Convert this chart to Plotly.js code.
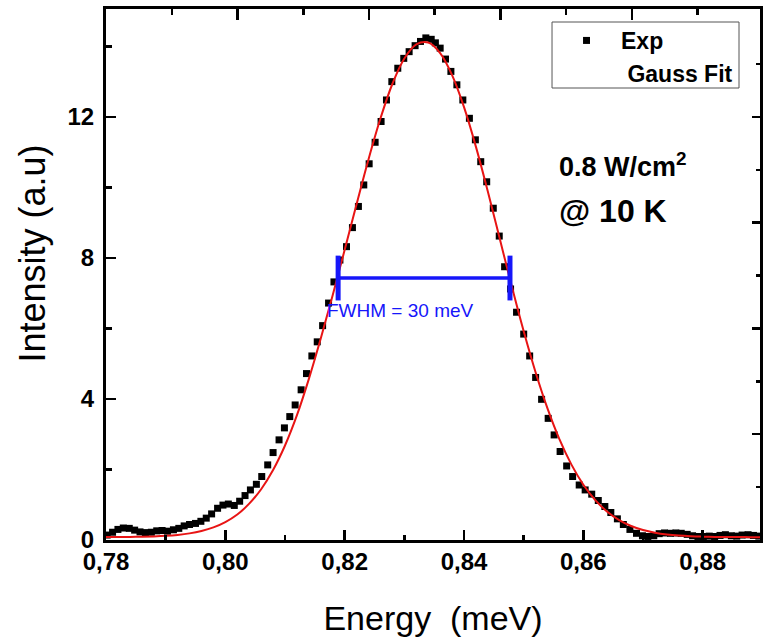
<!DOCTYPE html>
<html>
<head>
<meta charset="utf-8">
<script src="https://cdn.plot.ly/plotly-3.0.1.min.js"></script>
<style>html,body{margin:0;padding:0;background:#fff;}#chart{width:764px;height:638px;}</style>
</head>
<body>
<div id="chart"></div>
<script>
// Experimental PL spectrum (Energy, Intensity)
const expEnergy = [0.7802,0.7811,0.7820,0.7829,0.7839,0.7848,0.7857,0.7866,0.7876,0.7885,
  0.7894,0.7903,0.7913,0.7922,0.7931,0.7940,0.7950,0.7959,0.7968,0.7977,
  0.7987,0.7996,0.8005,0.8015,0.8024,0.8033,0.8042,0.8052,0.8061,0.8071,
  0.8080,0.8090,0.8099,0.8108,0.8117,0.8127,0.8136,0.8145,0.8154,0.8163,
  0.8173,0.8182,0.8192,0.8203,0.8213,0.8223,0.8232,0.8241,0.8251,0.8261,
  0.8270,0.8279,0.8289,0.8299,0.8308,0.8318,0.8327,0.8336,0.8345,0.8352,
  0.8360,0.8369,0.8378,0.8388,0.8398,0.8409,0.8419,0.8428,0.8438,0.8449,
  0.8459,0.8468,0.8478,0.8488,0.8500,0.8510,0.8520,0.8530,0.8541,0.8551,
  0.8561,0.8572,0.8582,0.8593,0.8603,0.8614,0.8625,0.8636,0.8646,0.8657,
  0.8667,0.8678,0.8689,0.8699,0.8708,0.8718,0.8727,0.8736,0.8746,0.8755,
  0.8764,0.8774,0.8783,0.8792,0.8801,0.8811,0.8820,0.8829,0.8838,0.8848,
  0.8857,0.8866,0.8876,0.8885,0.8894];
const expIntensity = [0.14,0.22,0.30,0.34,0.33,0.28,0.23,0.21,0.22,0.26,
  0.27,0.25,0.29,0.33,0.40,0.44,0.47,0.53,0.62,0.74,
  0.90,0.99,1.02,0.98,1.10,1.26,1.42,1.58,1.80,2.13,
  2.48,2.84,3.18,3.50,3.83,4.26,4.72,5.22,5.62,6.08,
  6.72,7.32,7.94,8.32,8.86,9.46,10.07,10.67,11.28,11.87,
  12.48,13.00,13.38,13.66,13.85,14.02,14.14,14.24,14.20,14.10,
  13.95,13.64,13.29,12.91,12.48,11.96,11.35,10.73,10.16,9.41,
  8.62,7.75,7.12,6.46,5.84,5.22,4.61,3.99,3.45,2.98,
  2.51,2.10,1.80,1.56,1.42,1.30,1.12,0.95,0.78,0.60,
  0.44,0.30,0.19,0.12,0.10,0.12,0.18,0.20,0.19,0.20,
  0.19,0.16,0.12,0.10,0.10,0.11,0.10,0.13,0.15,0.12,
  0.11,0.14,0.15,0.13,0.11];

// Gauss fit curve
const fitEnergy = [0.780,0.782,0.784,0.786,0.788,0.790,0.792,0.794,0.796,0.798,
  0.800,0.802,0.804,0.806,0.808,0.810,0.812,0.814,0.816,0.818,
  0.820,0.822,0.824,0.826,0.828,0.830,0.832,0.834,0.836,0.838,
  0.840,0.842,0.844,0.846,0.848,0.850,0.852,0.854,0.856,0.858,
  0.860,0.862,0.864,0.866,0.868,0.870,0.872,0.874,0.876,0.878,
  0.880,0.882,0.884,0.886,0.888,0.890];
const fitIntensity = [0.082,0.084,0.087,0.092,0.102,0.118,0.145,0.188,0.256,0.357,
  0.507,0.722,1.030,1.440,1.985,2.680,3.540,4.570,5.720,6.950,
  8.230,9.530,10.800,11.960,12.940,13.657,14.056,14.108,13.811,13.186,
  12.277,11.150,9.876,8.534,7.194,5.918,4.750,3.725,2.852,2.137,
  1.568,1.130,0.802,0.565,0.397,0.282,0.206,0.156,0.125,0.106,
  0.095,0.088,0.085,0.083,0.081,0.081];

// FWHM marker
const fwhmEnergy = [0.8189, 0.8477];
const fwhmIntensity = [7.43, 7.43];
const fwhmLabel = 'FWHM = 30 meV';

// Axis ticks
const xTickVals = [0.78, 0.80, 0.82, 0.84, 0.86, 0.88];
const xTickText = ['0,78', '0,80', '0,82', '0,84', '0,86', '0,88'];
const xMinorVals = [0.79, 0.81, 0.83, 0.85, 0.87, 0.89];
const yTickVals = [0, 4, 8, 12];
const yTickText = ['0', '4', '8', '12'];
const yMinorVals = [2, 6, 10, 14];
// mirror (top / right) frame ticks
const topTickVals = [2, 4, 6, 8];
const topMinorVals = [1, 3, 5, 7, 9];
const rightTickVals = [2, 4, 6, 8];
const rightMinorVals = [1, 3, 5, 7, 9];

const FONT = 'Liberation Sans, Arial, Helvetica, sans-serif';
const BLUE = 'rgb(22,22,250)';

const traces = [
  {
    type: 'scatter', mode: 'markers', name: 'Exp',
    x: expEnergy, y: expIntensity,
    marker: {symbol: 'square', size: 7, color: '#000'}
  },
  {
    type: 'scatter', mode: 'lines', name: 'Gauss Fit', showlegend: false,
    x: fitEnergy, y: fitIntensity,
    line: {color: 'rgb(232,20,20)', width: 2, shape: 'spline'}
  },
  {
    type: 'scatter', mode: 'lines+markers', showlegend: false, name: 'FWHM',
    x: fwhmEnergy, y: fwhmIntensity,
    line: {color: BLUE, width: 3.5},
    marker: {symbol: 'line-ns', size: 32, line: {color: BLUE, width: 5}}
  },
  {
    type: 'scatter', mode: 'lines', name: '\u00a0Gauss Fit',
    x: [null], y: [null],
    line: {color: 'rgba(0,0,0,0)', width: 2}
  },
  // empty traces so that the top / right frame tick axes are drawn
  {type: 'scatter', mode: 'markers', x: [], y: [], xaxis: 'x2', yaxis: 'y', showlegend: false, hoverinfo: 'skip'},
  {type: 'scatter', mode: 'markers', x: [], y: [], xaxis: 'x', yaxis: 'y2', showlegend: false, hoverinfo: 'skip'}
];

const layout = {
  width: 764, height: 638,
  margin: {l: 106, r: 4, t: 9, b: 98},
  paper_bgcolor: '#fff', plot_bgcolor: '#fff',
  font: {family: FONT, color: '#000'},
  showlegend: true,
  legend: {
    x: 0.682, y: 0.9812, xanchor: 'left', yanchor: 'top',
    borderwidth: 0, bgcolor: 'rgba(0,0,0,0)',
    itemwidth: 59,
    font: {family: FONT, size: 23, color: '#000', weight: 'bold'}
  },
  shapes: [
    {type: 'rect', xref: 'paper', yref: 'paper', x0: 0.682, x1: 0.9679, y0: 0.8512, y1: 0.9755,
     line: {color: '#555', width: 1}, fillcolor: 'rgba(0,0,0,0)', layer: 'above'}
  ],
  xaxis: {
    range: [0.78, 0.8896],
    tickmode: 'array', tickvals: xTickVals, ticktext: xTickText,
    ticks: 'inside', ticklen: 10, tickwidth: 2.5, tickcolor: '#000',
    minor: {tickmode: 'array', tickvals: xMinorVals, ticks: 'inside', ticklen: 5, tickwidth: 2.5, tickcolor: '#000', showgrid: false},
    showline: true, linewidth: 3, linecolor: '#000', mirror: true,
    showgrid: false, zeroline: false,
    tickfont: {family: FONT, size: 24, color: '#000', weight: 'bold'},
    ticklabelstandoff: -2,
    title: {text: 'Energy\u00a0\u00a0(meV)', font: {family: FONT, size: 34, color: '#000'}, standoff: 33}
  },
  yaxis: {
    range: [0, 15.06],
    tickmode: 'array', tickvals: yTickVals, ticktext: yTickText,
    ticks: 'inside', ticklen: 10, tickwidth: 2.5, tickcolor: '#000',
    minor: {tickmode: 'array', tickvals: yMinorVals, ticks: 'inside', ticklen: 6, tickwidth: 2.5, tickcolor: '#000', showgrid: false},
    showline: true, linewidth: 3, linecolor: '#000', mirror: true,
    showgrid: false, zeroline: false,
    tickfont: {family: FONT, size: 24, color: '#000', weight: 'bold'},
    ticklabelstandoff: 4
  },
  xaxis2: {
    overlaying: 'x', side: 'top', anchor: 'y',
    range: [0, 9.947],
    tickmode: 'array', tickvals: topTickVals, showticklabels: false,
    ticks: 'inside', ticklen: 11, tickwidth: 2.5, tickcolor: '#000',
    minor: {tickmode: 'array', tickvals: topMinorVals, ticks: 'inside', ticklen: 6, tickwidth: 2.5, tickcolor: '#000', showgrid: false},
    showline: false, showgrid: false, zeroline: false, fixedrange: true
  },
  yaxis2: {
    overlaying: 'y', side: 'right', anchor: 'x',
    range: [0, 10.04],
    tickmode: 'array', tickvals: rightTickVals, showticklabels: false,
    ticks: 'inside', ticklen: 8, tickwidth: 2.5, tickcolor: '#000',
    minor: {tickmode: 'array', tickvals: rightMinorVals, ticks: 'inside', ticklen: 4, tickwidth: 2.5, tickcolor: '#000', showgrid: false},
    showline: false, showgrid: false, zeroline: false, fixedrange: true
  },
  annotations: [
    {
      xref: 'paper', yref: 'paper', x: -0.1116, y: 0.5395, xanchor: 'center', yanchor: 'middle',
      text: 'Intensity (a.u)', textangle: -90, showarrow: false,
      font: {family: FONT, size: 36, color: '#000'}
    },
    {
      xref: 'paper', yref: 'paper', x: 0.6896, y: 0.706, xanchor: 'left', yanchor: 'middle',
      text: '0.8 W/cm<sup>2</sup>', showarrow: false,
      font: {family: FONT, size: 27, color: '#000', weight: 'bold'}
    },
    {
      xref: 'paper', yref: 'paper', x: 0.6896, y: 0.6196, xanchor: 'left', yanchor: 'middle',
      text: '@ 10 K', showarrow: false,
      font: {family: FONT, size: 32, color: '#000', weight: 'bold'}
    },
    {
      xref: 'x', yref: 'y', x: 0.8167, y: 6.5, xanchor: 'left', yanchor: 'middle',
      text: fwhmLabel, showarrow: false,
      font: {family: FONT, size: 19, color: BLUE}
    }
  ]
};

Plotly.newPlot('chart', traces, layout, {staticPlot: true, displayModeBar: false});
</script>
</body>
</html>
